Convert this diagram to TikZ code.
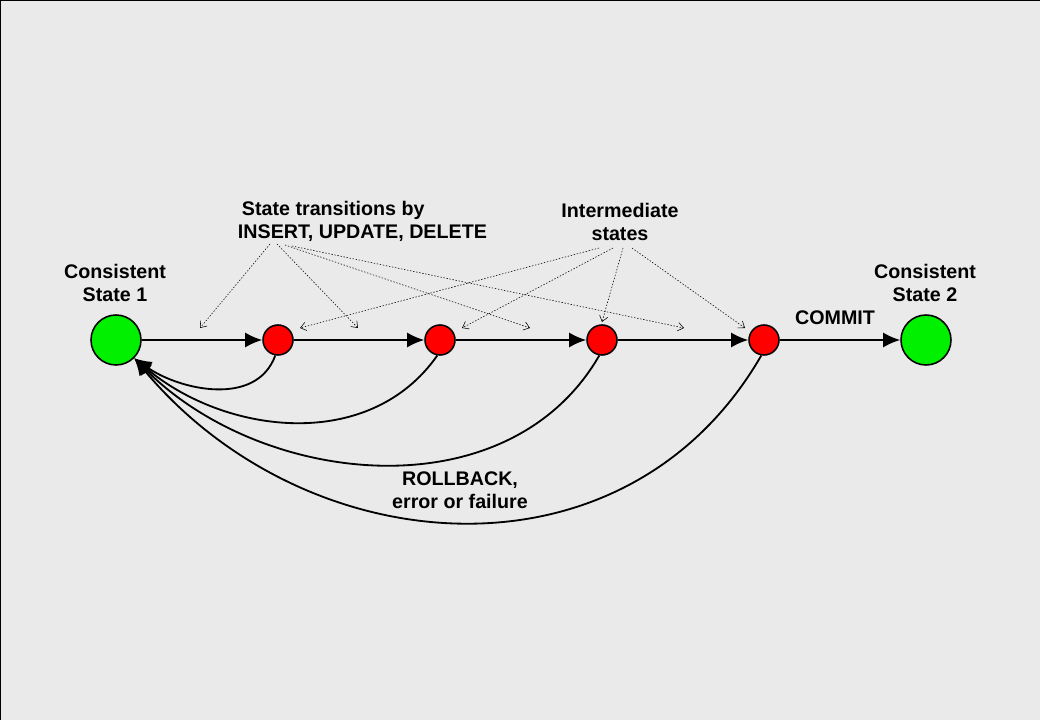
\documentclass[tikz,border=0pt]{standalone}
\usepackage{fontspec}
\setmainfont{Liberation Sans}
\usetikzlibrary{arrows.meta}
\definecolor{bg}{HTML}{EAEAEA}
\definecolor{okgreen}{HTML}{00F000}
\begin{document}
\begin{tikzpicture}[
    font=\bfseries\fontsize{14}{16.5}\selectfont,
    ok/.style={circle, draw, line width=1.1pt, fill=okgreen, minimum size=1.25cm, inner sep=0pt},
    mid/.style={circle, draw, line width=1.1pt, fill=red, minimum size=0.75cm, inner sep=0pt},
    trans/.style={-{Latex[length=0.43cm,width=0.38cm]}, line width=1.3pt},
    hint/.style={-{Straight Barb[length=4pt,width=6pt]}, dash pattern=on 1pt off 1.2pt, line width=0.4pt},
    txt/.style={align=center}
  ]
        \useasboundingbox (0,0) rectangle (26,18);
        \fill[bg] (0,0) rectangle (26,18);
        \draw[line width=1.5pt] (0,0) -- (0,18) -- (26,18);

        \node[ok] (0) at (2.9,9.5) {};
        \node[mid] (1) at (6.95,9.5) {};
        \node[mid] (2) at (11,9.5) {};
        \node[mid] (3) at (15.05,9.5) {};
        \node[mid] (4) at (19.1,9.5) {};
        \node[ok] (5) at (23.15,9.5) {};

        \node[txt] (6) at (2.875,10.925) {Consistent\\State 1};
        \node[txt] (7) at (23.125,10.925) {Consistent\\State 2};
        \node[align=left, anchor=west] (8) at (5.825,12.46) {\hspace*{0.1cm}State transitions by\\INSERT, UPDATE, DELETE};
        \node[txt] (9) at (15.5,12.45) {Intermediate\\states};
        \node (10) at (20.875,10.05) {COMMIT};
        \node[txt] (11) at (11.5,5.74) {ROLLBACK,\\error or failure};

        \draw[trans] (0) edge (1);
        \draw[trans] (1) edge (2);
        \draw[trans] (2) edge (3);
        \draw[trans] (3) edge (4);
        \draw[trans] (4) edge (5);

        \draw[trans] (1.-100) to[out=-110, in=-35] (0.-45);
        \draw[trans] (2.-100) to[out=-125, in=-40] (0.-45);
        \draw[trans] (3.-100) to[out=-120, in=-45] (0.-45);
        \draw[trans] (4.-100) to[out=-120, in=-50, looseness=1.1] (0.-45);

        \coordinate (s1) at (6.75,11.9);
        \coordinate (s2) at (6.925,11.9);
        \coordinate (s3) at (7.125,11.875);
        \coordinate (s4) at (7.3,11.85);
        \coordinate (e1) at (5.0,9.8);
        \coordinate (e2) at (8.95,9.8);
        \coordinate (e3) at (13.25,9.8);
        \coordinate (e4) at (17.1,9.8);
        \draw[hint] (s1) -- (e1);
        \draw[hint] (s2) -- (e2);
        \draw[hint] (s3) -- (e3);
        \draw[hint] (s4) -- (e4);

        \coordinate (m1) at (14.975,11.8);
        \coordinate (m2) at (15.325,11.8);
        \coordinate (m3) at (15.575,11.8);
        \coordinate (m4) at (15.8,11.8);
        \coordinate (f1) at (7.5,9.8);
        \coordinate (f2) at (11.55,9.8);
        \coordinate (f3) at (15.05,9.95);
        \coordinate (f4) at (18.625,9.8);
        \draw[hint] (m1) -- (f1);
        \draw[hint] (m2) -- (f2);
        \draw[hint] (m3) -- (f3);
        \draw[hint] (m4) -- (f4);
      \end{tikzpicture}
\end{document}
